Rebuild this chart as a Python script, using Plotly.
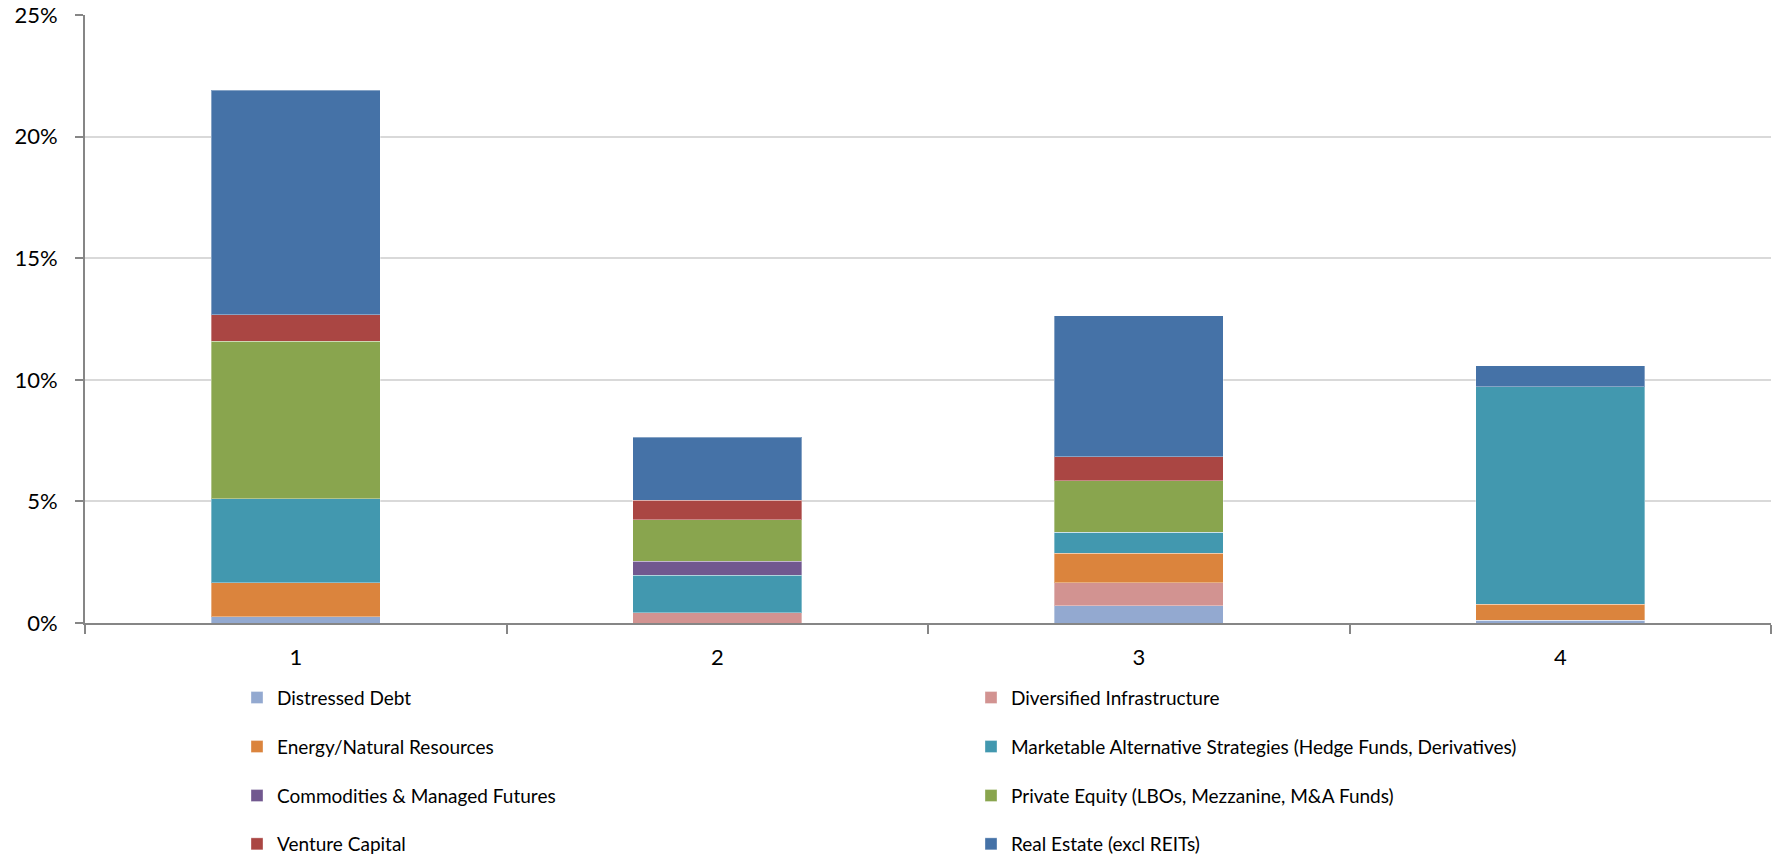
import plotly.graph_objects as go

categories = ["1", "2", "3", "4"]

series_names = [
    "Distressed Debt",
    "Diversified Infrastructure",
    "Energy/Natural Resources",
    "Marketable Alternative Strategies (Hedge Funds, Derivatives)",
    "Commodities & Managed Futures",
    "Private Equity (LBOs, Mezzanine, M&A Funds)",
    "Venture Capital",
    "Real Estate (excl REITs)",
]

distressed_debt = [0.26, 0.0, 0.70, 0.11]
diversified_infrastructure = [0.0, 0.43, 0.95, 0.0]
energy_natural_resources = [1.40, 0.0, 1.21, 0.67]
marketable_alternative = [3.45, 1.53, 0.88, 8.93]
commodities_futures = [0.0, 0.58, 0.0, 0.0]
private_equity = [6.48, 1.71, 2.10, 0.0]
venture_capital = [1.09, 0.79, 0.99, 0.0]
real_estate = [9.22, 2.59, 5.80, 0.87]

series_values = [
    distressed_debt,
    diversified_infrastructure,
    energy_natural_resources,
    marketable_alternative,
    commodities_futures,
    private_equity,
    venture_capital,
    real_estate,
]

colors = ["#93A9D0", "#D29391", "#DB843D", "#4298AF",
          "#71588F", "#89A54E", "#AA4643", "#4572A7"]

legend_ids = ["legend", "legend", "legend2", "legend2",
              "legend3", "legend3", "legend4", "legend4"]

W, H = 1779, 854

fig = go.Figure()
for name, vals, col, lg in zip(series_names, series_values, colors, legend_ids):
    fig.add_trace(go.Bar(
        x=categories, y=vals, name=name,
        marker=dict(color=col, line=dict(width=1, color="rgba(255,255,255,0.35)")),
        legend=lg,
    ))

legend_font = dict(family="Lato, sans-serif", size=19, color="#000000")
row_centers = [697.7, 746.7, 795.7, 844.0]
leg_x = 237 / W

def legend_cfg(yc):
    return dict(
        orientation="h", xref="container", yref="container",
        x=leg_x, xanchor="left", y=1 - yc / H, yanchor="middle",
        entrywidth=689, entrywidthmode="pixels",
        font=legend_font, bgcolor="rgba(0,0,0,0)", borderwidth=0,
        traceorder="normal",
    )

fig.update_layout(
    template="none",
    width=W, height=H,
    barmode="stack", bargap=0.6,
    plot_bgcolor="white", paper_bgcolor="white",
    margin=dict(l=85, r=8, t=15, b=231, pad=0, autoexpand=False),
    showlegend=True,
    legend=legend_cfg(row_centers[0]),
    legend2=legend_cfg(row_centers[1]),
    legend3=legend_cfg(row_centers[2]),
    legend4=legend_cfg(row_centers[3]),
    font=dict(family="Lato, sans-serif", color="#000000"),
)

fig.update_yaxes(
    range=[0, 25], dtick=5, ticksuffix="%", automargin=False,
    showgrid=True, gridcolor="#D9D9D9", gridwidth=1.5,
    zeroline=False,
    showline=True, linecolor="#868686", linewidth=2,
    ticks="outside", ticklen=8, tickcolor="#868686", tickwidth=2,
    tickfont=dict(family="Lato, sans-serif", size=22, color="#000000"),
    ticklabelstandoff=13,
)

fig.update_xaxes(
    type="category", automargin=False,
    showline=True, linecolor="#868686", linewidth=2,
    ticks="outside", ticklen=9, tickcolor="#868686", tickwidth=2,
    tickson="boundaries",
    showgrid=False, zeroline=False,
    tickfont=dict(family="Lato, sans-serif", size=22, color="#000000"),
    ticklabelstandoff=14,
)

fig.write_html("out.html")
